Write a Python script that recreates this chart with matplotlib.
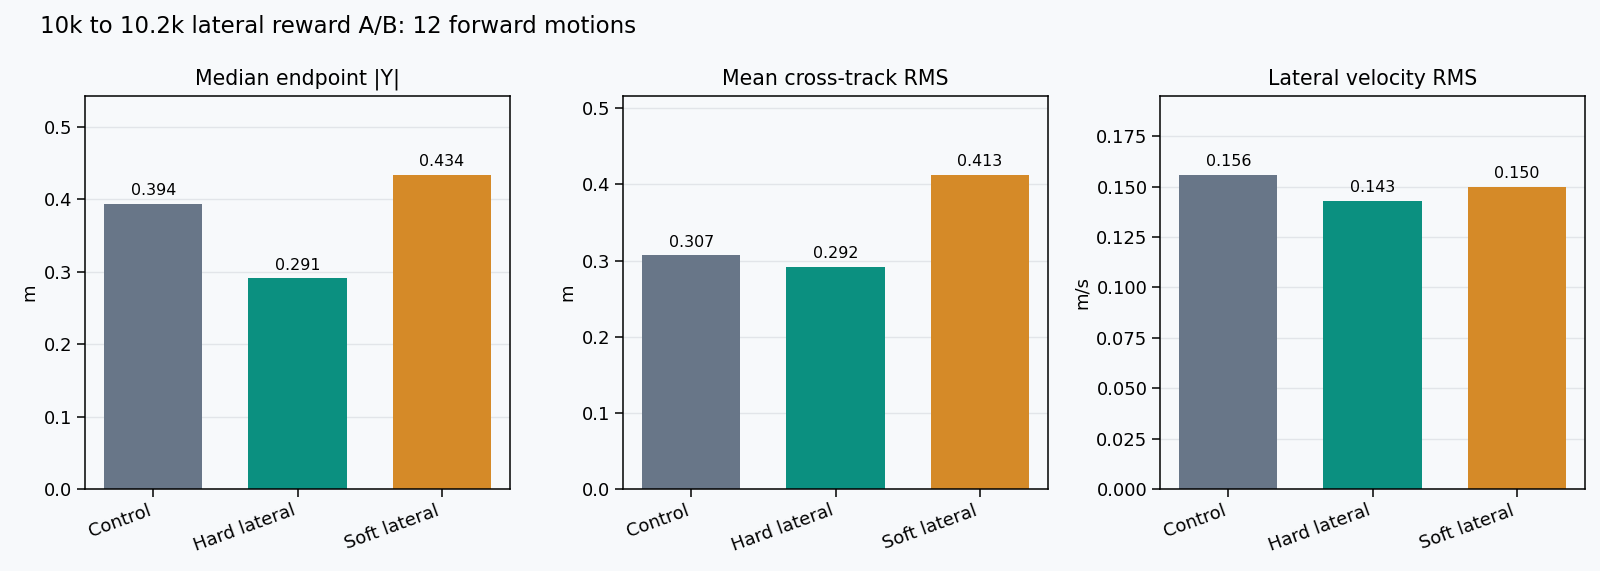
import numpy as np
import matplotlib
matplotlib.use("Agg")
import matplotlib.pyplot as plt

plt.rcParams.update({"font.family": "DejaVu Sans", "font.size": 13})

groups = ["Control", "Hard lateral", "Soft lateral"]
colors = ["#687688", "#0b9080", "#d58a28"]

endpoint_y = [0.394, 0.291, 0.434]
cross_track = [0.307, 0.292, 0.413]
lat_vel = [0.156, 0.143, 0.150]

panel_titles = ["Median endpoint |Y|", "Mean cross-track RMS", "Lateral velocity RMS"]
panel_units = ["m", "m", "m/s"]
panel_values = [endpoint_y, cross_track, lat_vel]

bg = "#f7f9fb"
fig = plt.figure(figsize=(16, 5.71), dpi=100, facecolor=bg)

lefts = [85, 623, 1160]
for i in range(3):
    ax = fig.add_axes([lefts[i] / 1600, 1 - 489 / 571, 425 / 1600, 393 / 571])
    ax.set_facecolor(bg)
    vals = panel_values[i]
    x = np.arange(len(groups))
    bars = ax.bar(x, vals, width=0.68, color=colors, zorder=2)
    ax.bar_label(bars, fmt="%.3f", padding=4, fontsize=11.4)
    ax.set_ylim(0, max(vals) * 1.25)
    ax.set_xticks(x)
    ax.set_xticklabels(groups, rotation=20, ha="right")
    ax.set_title(panel_titles[i], fontsize=14.8, pad=8)
    ax.set_ylabel(panel_units[i])
    ax.yaxis.grid(True, color="#e2e5e9", linewidth=1.0, zorder=0)
    ax.set_axisbelow(True)
    ax.tick_params(length=5.5, width=1.1)
    for s in ax.spines.values():
        s.set_linewidth(1.1)
    if i == 2:
        ax.set_yticks(np.arange(0, 0.176, 0.025))
        ax.yaxis.set_major_formatter(matplotlib.ticker.FormatStrFormatter("%.3f"))

fig.text(40 / 1600, 1 - 33 / 571, "10k to 10.2k lateral reward A/B: 12 forward motions",
         fontsize=16.5, va="baseline", ha="left")

fig.savefig("out.png", dpi=100, facecolor=bg)
